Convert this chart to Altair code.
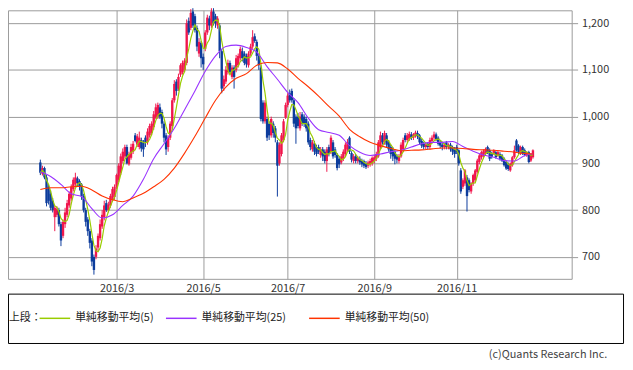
import altair as alt
import pandas as pd

# ---- daily candles (trading-day index of 2016, first candle = day 2) ----
first_day = 2
opens = [902,878,890,870,850,835,820,785,790,800,
         770,745,770,790,810,825,845,855,868,862,
         855,830,800,780,755,735,700,700,720,740,
         765,785,815,800,810,822,828,850,865,880,
         905,915,935,898,912,925,960,940,935,950,
         945,955,945,960,965,978,998,1000,1020,1010,
         985,960,935,955,980,1035,1075,1060,1090,1095,
         1100,1115,1205,1190,1225,1215,1190,1135,1158,1128,
         1145,1180,1210,1195,1225,1215,1195,1195,1140,1065,
         1075,1095,1115,1085,1105,1100,1110,1125,1140,1135,
         1130,1110,1135,1150,1172,1160,1130,1105,1030,990,
         995,985,960,985,975,945,900,920,950,998,
         1025,1050,1055,1035,1000,1000,975,1005,1000,995,
         985,950,930,942,935,935,918,930,925,905,
         935,925,945,930,918,910,902,910,920,930,
         955,922,905,915,905,910,905,905,900,895,
         898,900,905,910,915,935,960,945,960,945,
         935,930,925,915,905,915,930,960,950,952,
         962,955,958,965,960,948,942,935,942,935,
         948,955,962,955,945,940,935,945,935,940,
         935,930,935,928,885,850,857,870,864,840,
         857,864,882,903,913,915,920,935,928,920,
         921,924,917,920,917,910,903,898,885,896,
         913,949,938,921,935,928,917,924,906,913]
highs = [908,895,893,875,855,842,826,810,808,805,
         775,780,805,822,840,855,870,880,872,866,
         858,835,805,785,760,740,705,725,750,780,
         800,820,822,818,835,850,855,878,900,921,
         932,940,940,925,942,948,965,963,968,955,
         950,960,975,985,990,1012,1028,1030,1028,1015,
         990,965,960,990,1040,1078,1080,1092,1114,1120,
         1125,1208,1212,1230,1232,1220,1195,1168,1162,1135,
         1185,1218,1216,1232,1232,1220,1215,1200,1145,1088,
         1108,1122,1120,1110,1110,1132,1135,1150,1148,1140,
         1135,1140,1156,1185,1178,1165,1135,1110,1035,1035,
         1000,990,1000,990,980,950,945,965,995,1030,
         1050,1058,1060,1040,1005,1008,1010,1010,1005,1000,
         990,955,950,948,940,940,935,935,930,935,
         940,960,950,935,922,915,920,930,945,952,
         958,926,920,920,916,915,910,908,905,906,
         910,915,918,925,950,968,965,970,965,950,
         940,935,930,920,920,945,955,965,965,968,
         967,965,970,970,963,952,946,945,945,955,
         960,968,966,958,950,945,944,948,943,944,
         938,935,940,930,890,868,888,875,868,860,
         878,888,910,920,927,930,934,938,932,925,
         930,927,927,924,920,913,906,902,902,916,
         938,952,941,938,938,932,926,927,922,930]
lows = [875,874,866,808,812,800,795,755,785,765,
        723,740,762,785,805,820,840,850,850,842,
        822,795,765,745,718,680,662,695,712,735,
        760,778,796,795,805,818,822,845,860,875,
        900,910,898,895,908,920,945,935,930,925,
        914,935,940,955,960,972,995,995,995,975,
        945,918,925,950,975,1030,1045,1055,1085,1090,
        1095,1110,1175,1185,1190,1180,1140,1128,1105,1100,
        1140,1175,1185,1190,1195,1190,1188,1125,1050,1055,
        1070,1090,1090,1080,1060,1095,1105,1120,1118,1110,
        1105,1105,1130,1145,1158,1120,1100,990,985,985,
        948,950,955,955,945,829,895,915,945,995,
        1020,1030,1030,978,942,975,970,980,978,968,
        940,928,925,918,915,920,912,905,900,882,
        915,920,910,912,885,890,898,905,915,925,
        920,902,900,900,900,897,892,890,888,890,
        893,895,900,905,912,930,940,940,935,925,
        910,905,898,900,900,912,925,945,945,948,
        950,950,955,952,940,933,930,930,930,930,
        945,950,948,938,932,928,930,930,930,925,
        918,912,920,895,835,845,852,797,838,835,
        852,860,878,898,908,910,916,920,905,910,
        918,910,914,906,903,893,886,884,882,893,
        910,925,920,918,918,915,914,900,903,910]
closes = [880,890,870,815,820,805,800,805,802,770,
          735,775,795,815,835,850,865,870,858,850,
          830,800,775,755,730,690,672,718,745,770,
          790,810,800,812,830,845,850,875,895,915,
          925,935,900,920,935,942,948,958,955,932,
          930,945,968,980,985,1005,1020,1025,1000,985,
          955,930,955,985,1035,1070,1055,1085,1110,1115,
          1120,1200,1180,1222,1195,1185,1150,1160,1125,1112,
          1180,1212,1195,1225,1200,1200,1210,1140,1060,1080,
          1100,1115,1095,1105,1085,1125,1130,1145,1125,1115,
          1112,1135,1150,1170,1162,1130,1110,995,990,1030,
          955,960,995,965,955,895,940,960,990,1025,
          1045,1035,1035,985,975,980,1000,985,985,975,
          945,935,945,925,920,925,930,915,905,930,
          920,955,915,918,890,898,915,925,940,945,
          925,908,915,905,912,902,898,895,892,902,
          905,912,913,920,945,960,945,965,940,930,
          920,915,910,908,915,940,950,950,960,963,
          955,962,966,958,945,938,935,940,935,950,
          955,962,952,942,938,935,940,935,940,930,
          925,920,925,900,840,864,885,830,843,857,
          875,885,906,917,924,926,931,924,910,914,
          928,913,924,910,906,896,889,888,899,913,
          928,928,924,935,921,918,924,903,920,928]

# ---- moving averages (25 and 50 day) ----
ma_days = [2,7,12,17,22,27,32,37,42,47,52,57,62,67,72,77,82,87,92,97,
           102,107,112,117,122,127,132,137,142,147,152,157,162,167,172,177,
           182,187,192,197,202,207,212,217,222,227,232,237,241]
ma25 = [882,872,855,835,829,803,783,790,810,830,866,910,942,975,1015,1055,1097,1130,1150,1153,
        1148,1138,1107,1080,1052,1030,997,972,966,960,938,924,917,920,925,928,
        935,942,945,945,947,936,926,918,913,906,905,917,920]
ma50 = [844,848,848,850,851,843,830,822,818,826,836,850,866,890,922,958,997,1035,1063,1082,
        1092,1110,1116,1115,1102,1082,1064,1044,1022,1001,973,957,945,938,932,927,
        928,929,931,933,933,932,930,929,928,926,924,921,920]

month_ticks = [39, 81, 122, 164, 204]
month_labels = ["2016/3", "2016/5", "2016/7", "2016/9", "2016/11"]
price_ticks = [700, 800, 900, 1000, 1100, 1200]

legend_title = "上段："
legend_labels = ["単純移動平均(5)", "単純移動平均(25)", "単純移動平均(50)"]
legend_colors = ["#99cc00", "#9933ff", "#ff3300"]
copyright_text = "(c)Quants Research Inc."

UP = "#f0164c"
DOWN = "#0c3c9c"
FONT = "Noto Sans CJK JP"

n = len(closes)
df = pd.DataFrame({
    "day": list(range(first_day, first_day + n)),
    "open": opens, "high": highs, "low": lows, "close": closes,
})
df["dir"] = ["up" if c >= o else "down" for o, c in zip(opens, closes)]
ma_df = pd.DataFrame({"day": ma_days, "ma25": ma25, "ma50": ma50})

xs = alt.Scale(domain=[-11.3, 257.4], nice=False, zero=False)
ys = alt.Scale(domain=[653, 1227.5], nice=False, zero=False)

label_expr = " : ".join(f"datum.value == {t} ? '{l}'" for t, l in zip(month_ticks, month_labels)) + " : ''"

x_axis = alt.Axis(values=month_ticks, labelExpr=label_expr, grid=True, gridColor="#9a9a9a",
                  tickSize=0, domain=False, labelPadding=4, title=None, labelFlush=False)
y_axis = alt.Axis(orient="right", values=price_ticks, format=",d", grid=True, gridColor="#9a9a9a",
                  tickSize=6, tickColor="#9a9a9a", domain=False, labelPadding=4, title=None)

color = alt.Color("dir:N", scale=alt.Scale(domain=["up", "down"], range=[UP, DOWN]), legend=None)

wicks = alt.Chart(df).mark_rule(strokeWidth=1).encode(
    x=alt.X("day:Q", scale=xs, axis=x_axis),
    y=alt.Y("low:Q", scale=ys, axis=y_axis),
    y2="high:Q",
    color=color,
)
bodies = alt.Chart(df).mark_bar(size=2.4).encode(
    x=alt.X("day:Q", scale=xs),
    y=alt.Y("open:Q", scale=ys),
    y2="close:Q",
    color=color,
)
ma5_line = alt.Chart(df).transform_window(
    ma5="mean(close)", frame=[-4, 0], sort=[alt.SortField("day")]
).mark_line(color=legend_colors[0], strokeWidth=1.2).encode(
    x=alt.X("day:Q", scale=xs), y=alt.Y("ma5:Q", scale=ys)
)
ma25_line = alt.Chart(ma_df).mark_line(color=legend_colors[1], strokeWidth=1.1, interpolate="monotone").encode(
    x=alt.X("day:Q", scale=xs), y=alt.Y("ma25:Q", scale=ys)
)
ma50_line = alt.Chart(ma_df).mark_line(color=legend_colors[2], strokeWidth=1.1, interpolate="monotone").encode(
    x=alt.X("day:Q", scale=xs), y=alt.Y("ma50:Q", scale=ys)
)

one = pd.DataFrame({"k": [0]})
legend_layers = [
    alt.Chart(one).mark_rect(fillOpacity=0, stroke="#000000", strokeWidth=1).encode(
        x=alt.value(0.5), x2=alt.value(623.5), y=alt.value(287.5), y2=alt.value(337.5)),
    alt.Chart(one).mark_text(align="left", baseline="middle", fontSize=11, font=FONT, color="#222").encode(
        x=alt.value(1), y=alt.value(312), text=alt.value(legend_title)),
]
line_x = [(32, 63), (160, 191), (305, 336)]
text_x = [68, 196, 341]
for (x0, x1), tx, lab, col in zip(line_x, text_x, legend_labels, legend_colors):
    legend_layers.append(alt.Chart(one).mark_rule(color=col, strokeWidth=1.5).encode(
        x=alt.value(x0), x2=alt.value(x1), y=alt.value(312)))
    legend_layers.append(alt.Chart(one).mark_text(align="left", baseline="middle", fontSize=11,
                                                  font=FONT, color="#222").encode(
        x=alt.value(tx), y=alt.value(312), text=alt.value(lab)))
legend_layers.append(alt.Chart(one).mark_text(align="right", baseline="middle", fontSize=11,
                                              font=FONT, color="#444").encode(
    x=alt.value(607), y=alt.value(349), text=alt.value(copyright_text)))

chart = alt.layer(wicks, bodies, ma5_line, ma25_line, ma50_line, *legend_layers).properties(
    width=571, height=272, autosize="none",
    padding={"left": 0, "top": 0, "right": 54, "bottom": 90},
).configure_view(stroke="#9a9a9a").configure_axis(
    labelFont=FONT, labelFontSize=11, labelColor="#333"
)

chart.save("out.html", embed_options={"renderer": "svg", "actions": False})
